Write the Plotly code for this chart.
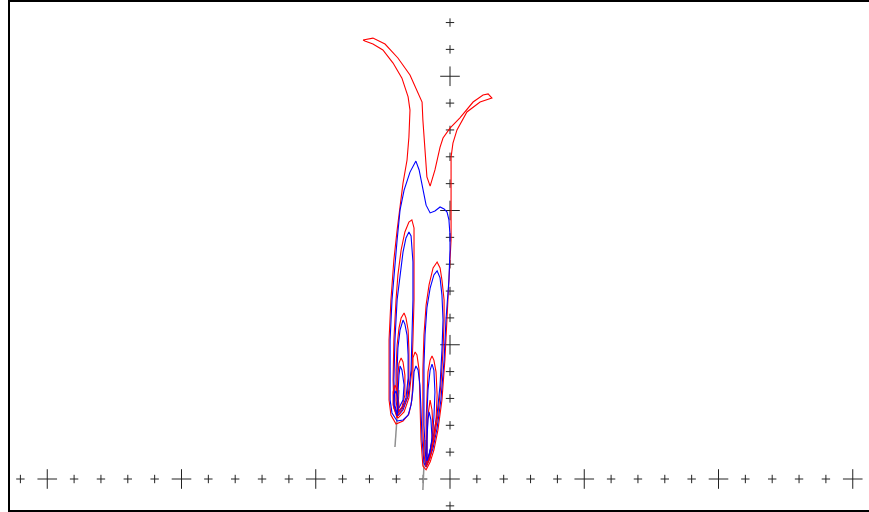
import plotly.graph_objects as go

# Axis tick crosses (one unit per tick, large cross every 5 units)
x_ticks = list(range(-16, 16))
y_ticks = list(range(-1, 18))

# Outer red contour (with the two horns at the top)
r0_x = [-3.24, -2.87, -2.42, -1.94, -1.49, -1.19, -1.04, -1.01, -0.93, -0.86,
        -0.74, -0.56, -0.37, -0.26, 0, 0.37, 0.86, 1.23, 1.42, 1.56,
        1.12, 0.63, 0.26, 0.11, 0.04, 0.04, 0.04, -0.04, -0.11, -0.19,
        -0.30, -0.45, -0.60, -0.74, -0.89,
        -1.01, -1.08, -1.12, -1.15, -1.23, -1.30, -1.38, -1.38, -1.42, -1.53, -1.75, -2.01,
        -2.20, -2.27, -2.27, -2.27, -2.20, -2.09, -1.97, -1.86, -1.75, -1.60,
        -1.53, -1.49, -1.56, -1.79, -2.12, -2.50, -2.87, -3.17, -3.24]
r0_y = [16.35, 16.42, 16.20, 15.68, 15.05, 14.41, 14.04, 13.37, 12.14, 11.25,
        10.91, 11.51, 12.36, 12.70, 13.07, 13.45, 14.04, 14.30, 14.34, 14.19,
        14.04, 13.67, 13.00, 12.51, 11.99, 10.88, 8.90, 7.41, 5.92, 4.43,
        2.94, 1.82, 1.08, 0.63, 0.34,
        0.48, 1.45, 2.94, 4.06, 4.62, 4.73, 4.51, 3.69, 2.94, 2.42, 2.16, 2.05,
        2.38, 2.94, 3.69, 5.18, 6.67, 8.16, 9.27, 10.13, 11.02, 11.88,
        12.74, 13.74, 14.23, 14.93, 15.49, 15.98, 16.20, 16.31, 16.35]

# Outer blue contour
b0_x = [-1.97, -2.16, -2.23, -2.23, -2.23, -2.16, -2.05, -1.97, -1.86, -1.71,
        -1.49, -1.27, -1.15, -1.04, -0.89, -0.74, -0.56, -0.37, -0.22, -0.11,
        -0.04, 0, 0, -0.04, -0.15, -0.22, -0.34, -0.48, -0.63, -0.78, -0.89,
        -0.97, -1.04, -1.08, -1.12, -1.19, -1.27, -1.34, -1.38, -1.45, -1.56, -1.75, -1.97]
b0_y = [2.16, 2.46, 2.94, 3.69, 5.18, 6.67, 8.16, 8.90, 10.02, 10.76,
        11.43, 11.84, 11.51, 10.95, 10.20, 9.91, 9.98, 10.13, 10.06, 9.94,
        9.65, 9.09, 8.53, 7.41, 5.92, 4.43, 2.94, 1.90, 1.15, 0.71, 0.45,
        0.60, 1.45, 2.57, 3.50, 4.06, 4.21, 3.99, 3.31, 2.76, 2.38, 2.20, 2.16]

# Left lobe, nested levels (red / blue)
l1r_x = [-1.94, -2.09, -2.12, -2.09, -2.01, -1.94, -1.82, -1.68, -1.53, -1.42,
         -1.34, -1.34, -1.34, -1.38, -1.42, -1.53, -1.71, -1.94]
l1r_y = [2.27, 2.64, 3.69, 5.18, 6.67, 7.60, 8.53, 9.20, 9.57, 9.65,
         9.35, 8.16, 6.67, 5.18, 4.06, 3.02, 2.50, 2.27]
l1b_x = [-1.94, -2.05, -2.09, -2.05, -1.97, -1.86, -1.75, -1.64, -1.53, -1.45,
         -1.38, -1.38, -1.42, -1.45, -1.56, -1.75, -1.94]
l1b_y = [2.35, 2.72, 3.69, 5.18, 6.67, 7.60, 8.45, 8.98, 9.20, 9.05,
         8.08, 6.67, 5.18, 4.06, 3.09, 2.57, 2.35]
l2r_x = [-1.94, -2.01, -2.01, -1.97, -1.90, -1.82, -1.71, -1.64, -1.56, -1.53,
         -1.53, -1.60, -1.79, -1.94]
l2r_y = [2.38, 2.94, 4.06, 4.99, 5.62, 6.00, 6.18, 6.00, 5.55, 4.80,
         3.87, 3.02, 2.57, 2.38]
l2b_x = [-1.94, -1.97, -1.97, -1.94, -1.86, -1.75, -1.68, -1.60, -1.56, -1.56,
         -1.64, -1.79, -1.94]
l2b_y = [2.46, 3.02, 4.06, 4.88, 5.55, 5.92, 5.77, 5.36, 4.62, 3.76,
         3.02, 2.64, 2.46]
l3r_x = [-1.94, -1.97, -1.94, -1.90, -1.82, -1.75, -1.68, -1.68, -1.79, -1.94]
l3r_y = [2.50, 3.13, 3.87, 4.32, 4.51, 4.36, 3.87, 3.13, 2.68, 2.50]
l3b_x = [-1.94, -1.94, -1.90, -1.86, -1.79, -1.71, -1.75, -1.94]
l3b_y = [2.57, 3.13, 3.87, 4.21, 4.06, 3.50, 2.94, 2.57]
l4r_x = [-1.97, -2.12, -2.12, -2.05, -1.97, -1.90, -1.97]
l4r_y = [2.27, 2.76, 3.24, 3.50, 3.31, 2.76, 2.27]
l4b_x = [-1.97, -2.09, -2.09, -2.01, -1.94, -1.94, -1.97]
l4b_y = [2.35, 2.79, 3.13, 3.28, 3.02, 2.64, 2.35]

# Right lobe, nested levels (red / blue)
r1r_x = [-0.89, -0.97, -1.01, -1.01, -1.01, -0.97, -0.89, -0.78, -0.63, -0.48,
         -0.37, -0.30, -0.22, -0.22, -0.26, -0.34, -0.45, -0.60, -0.74, -0.89]
r1r_y = [0.45, 0.89, 1.82, 2.94, 4.06, 5.36, 6.48, 7.23, 7.86, 8.08,
         7.86, 7.41, 6.67, 5.92, 4.80, 3.50, 2.38, 1.45, 0.86, 0.45]
r1b_x = [-0.89, -0.93, -0.97, -0.97, -0.97, -0.93, -0.86, -0.74, -0.60, -0.48,
         -0.37, -0.30, -0.26, -0.30, -0.37, -0.48, -0.63, -0.78, -0.89]
r1b_y = [0.52, 1.08, 2.01, 3.13, 4.25, 5.36, 6.37, 7.11, 7.60, 7.75,
         7.49, 6.85, 5.92, 4.80, 3.50, 2.42, 1.53, 0.93, 0.52]
r2r_x = [-0.86, -0.89, -0.89, -0.86, -0.82, -0.74, -0.67, -0.60, -0.52, -0.48,
         -0.52, -0.63, -0.74, -0.86]
r2r_y = [0.52, 1.27, 2.20, 3.13, 3.99, 4.43, 4.58, 4.43, 3.99, 3.13,
         2.20, 1.38, 0.78, 0.52]
r2b_x = [-0.86, -0.86, -0.86, -0.82, -0.74, -0.67, -0.60, -0.56, -0.60, -0.67,
         -0.78, -0.86]
r2b_y = [0.60, 1.45, 2.38, 3.31, 4.06, 4.28, 4.06, 3.24, 2.27, 1.45,
         0.86, 0.60]
r3r_x = [-0.86, -0.86, -0.82, -0.74, -0.67, -0.63, -0.71, -0.86]
r3r_y = [0.60, 1.45, 2.38, 2.94, 2.57, 1.82, 1.08, 0.60]
r3b_x = [-0.86, -0.86, -0.82, -0.78, -0.71, -0.67, -0.74, -0.86]
r3b_y = [0.67, 1.45, 2.20, 2.50, 2.20, 1.53, 1.01, 0.67]

# Gray stems below each lobe
stem_l_x = [-1.90, -1.97, -2.05]
stem_l_y = [3.31, 2.20, 1.19]
stem_r_x = [-0.93, -0.97, -1.01]
stem_r_y = [1.45, 0.34, -0.41]

RED = "#ff0000"
BLUE = "#0000ff"

fig = go.Figure()

# tick crosses along the axes
def cross_trace(xs, ys, size):
    return go.Scatter(
        x=xs, y=ys, mode="markers", hoverinfo="skip", showlegend=False,
        marker=dict(symbol="cross-thin", size=size, color="#222",
                    line=dict(width=1, color="#222")))

small_x = [v for v in x_ticks if v % 5 != 0]
big_x = [v for v in x_ticks if v % 5 == 0]
small_y = [v for v in y_ticks if v % 5 != 0]
big_y = [v for v in y_ticks if v % 5 == 0 and v != 0]
fig.add_trace(cross_trace(small_x, [0] * len(small_x), 6))
fig.add_trace(cross_trace(big_x, [0] * len(big_x), 14))
fig.add_trace(cross_trace([0] * len(small_y), small_y, 6))
fig.add_trace(cross_trace([0] * len(big_y), big_y, 14))

def line(xs, ys, color, width=1.1):
    fig.add_trace(go.Scatter(x=xs, y=ys, mode="lines", hoverinfo="skip",
                             showlegend=False,
                             line=dict(color=color, width=width)))

line(stem_l_x, stem_l_y, "#909090", 1.5)
line(stem_r_x, stem_r_y, "#909090", 1.5)

line(r0_x, r0_y, RED)
line(b0_x, b0_y, BLUE)
for rx, ry, bx, by in [
    (l1r_x, l1r_y, l1b_x, l1b_y),
    (l2r_x, l2r_y, l2b_x, l2b_y),
    (l3r_x, l3r_y, l3b_x, l3b_y),
    (l4r_x, l4r_y, l4b_x, l4b_y),
    (r1r_x, r1r_y, r1b_x, r1b_y),
    (r2r_x, r2r_y, r2b_x, r2b_y),
    (r3r_x, r3r_y, r3b_x, r3b_y),
]:
    line(rx, ry, RED)
    line(bx, by, BLUE)

W, H = 869, 512
unit = 26.85
fig.update_layout(
    width=W, height=H,
    margin=dict(l=0, r=0, t=0, b=0),
    paper_bgcolor="white", plot_bgcolor="white",
    xaxis=dict(range=[-450 / unit, (W - 450) / unit], visible=False),
    yaxis=dict(range=[(479 - H) / unit, 479 / unit], visible=False),
    shapes=[dict(type="rect", xref="paper", yref="paper",
                 x0=9 / W, x1=1.01, y0=1 / H, y1=1 - 1 / H,
                 line=dict(color="black", width=2))],
)

fig.write_html("out.html")
